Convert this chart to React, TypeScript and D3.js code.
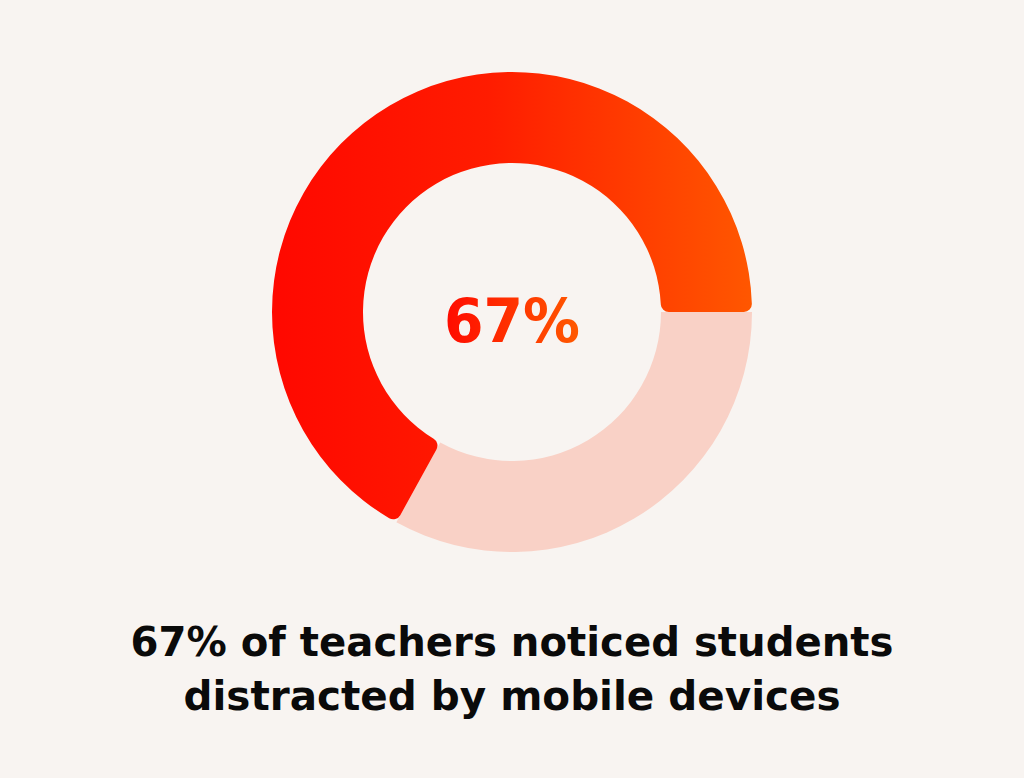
import * as d3 from "d3";

// share of teachers who noticed distraction
const categories = ["Noticed distraction", "Did not notice"];
const values = [67, 33];
const headline = "67%";
const captionLines = [
  "67% of teachers noticed students",
  "distracted by mobile devices",
];

const W = 1024;
const H = 778;
const CX = 512;
const CY = 312;
const OUTER = 240;
const INNER = 149;

const BG = "#f8f4f1";
const REST = "#f9d1c6";

export default function App() {
  const total = d3.sum(values);
  // the highlighted share ends at 3 o'clock and runs back counter-clockwise
  const angle = d3.scaleLinear().domain([0, total]).range([0, 2 * Math.PI]);
  const end = Math.PI / 2;
  const start = end - angle(values[0]);

  const arc = d3.arc<any>().innerRadius(INNER).outerRadius(OUTER);

  const restPath = arc({
    startAngle: end,
    endAngle: end + angle(values[1]),
  } as any) ?? "";
  const mainPath =
    arc.cornerRadius(8)({ startAngle: start, endAngle: end } as any) ?? "";

  return (
    <svg
      width={W}
      height={H}
      style={{ position: "absolute", left: 0, top: 0, background: BG }}
    >
      <defs>
        <linearGradient id="hot" x1="0" x2="1" y1="0" y2="0">
          <stop offset="0%" stopColor="#ff0800" />
          <stop offset="45%" stopColor="#ff1c00" />
          <stop offset="100%" stopColor="#ff5700" />
        </linearGradient>
        <linearGradient id="hotText" x1="0" x2="1" y1="0" y2="0">
          <stop offset="0%" stopColor="#ff0a00" />
          <stop offset="100%" stopColor="#ff5a00" />
        </linearGradient>
      </defs>
      <rect width={W} height={H} fill={BG} />
      <g transform={`translate(${CX},${CY})`}>
        <path d={restPath} fill={REST}>
          <title>{categories[1]}</title>
        </path>
        <path d={mainPath} fill="url(#hot)">
          <title>{categories[0]}</title>
        </path>
        <text
          x={0}
          y={30}
          textAnchor="middle"
          fontFamily="DejaVu Sans"
          fontWeight="bold"
          fontSize={61}
          fill="url(#hotText)"
          textLength={136}
          lengthAdjust="spacingAndGlyphs"
        >
          {headline}
        </text>
      </g>
      {captionLines.map((line, i) => (
        <text
          key={line}
          x={CX}
          y={656 + i * 54}
          textAnchor="middle"
          fontFamily="DejaVu Sans"
          fontWeight="bold"
          fontSize={40}
          fill="#0a0a0a"
          textLength={i === 0 ? 763 : 657}
          lengthAdjust="spacingAndGlyphs"
        >
          {line}
        </text>
      ))}
    </svg>
  );
}
